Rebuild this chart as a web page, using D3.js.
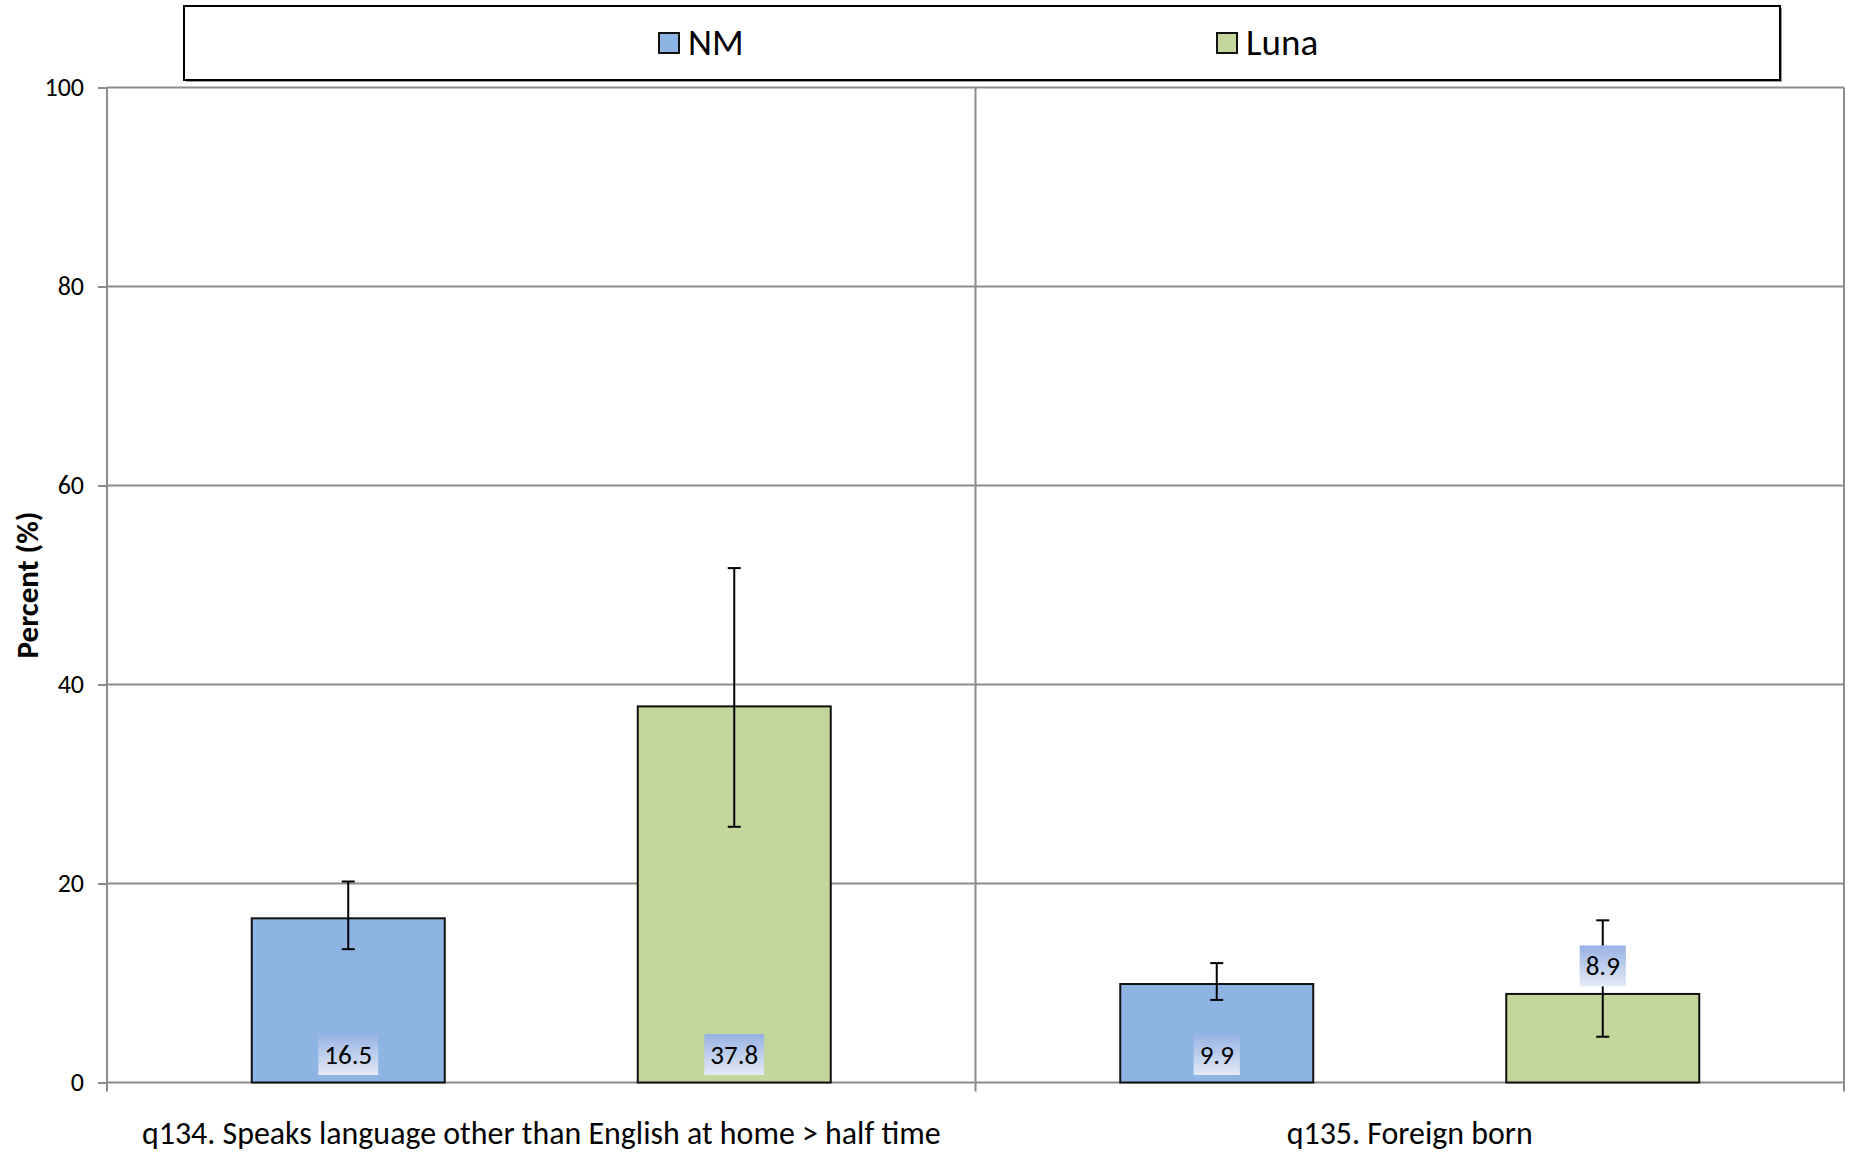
<!DOCTYPE html>
<html>
<head>
<meta charset="utf-8">
<script src="https://cdn.jsdelivr.net/npm/d3@7"></script>
<style>
  html, body { margin: 0; padding: 0; background: #fff; }
  svg { display: block; }
  text { font-family: Carlito, Calibri, Lato, "Open Sans", sans-serif; }
</style>
</head>
<body>
<svg id="chart" width="1851" height="1153"></svg>
<script>
// ---- data ----
const categories = ["q134. Speaks language other than English at home > half time", "q135. Foreign born"];
const seriesNames = ["NM", "Luna"];
const nmValues = [16.5, 9.9];
const lunaValues = [37.8, 8.9];
const nmLower = [13.4, 8.3];
const nmUpper = [20.2, 12.0];
const lunaLower = [25.7, 4.6];
const lunaUpper = [51.7, 16.3];
const yTicks = [0, 20, 40, 60, 80, 100];
const yTitle = "Percent (%)";

// ---- layout ----
const plot = { left: 107, right: 1844, top: 87.5, bottom: 1082.5 };
const colors = { NM: "#8eb4e3", Luna: "#c3d69b" };
const gridColor = "#8c8c8c";

const svg = d3.select("#chart");

const seriesData = {
  NM: { values: nmValues, lower: nmLower, upper: nmUpper },
  Luna: { values: lunaValues, lower: lunaLower, upper: lunaUpper }
};

const x0 = d3.scaleBand().domain(categories).range([plot.left, plot.right]).padding(0);
const x1 = d3.scaleBand().domain(seriesNames).range([0, x0.bandwidth()])
  .paddingInner(0.5).paddingOuter(0.375);
const y = d3.scaleLinear().domain([0, 100]).range([plot.bottom, plot.top]);

// defs: gradient for data labels
const defs = svg.append("defs");
const grad = defs.append("linearGradient").attr("id", "lblGrad")
  .attr("x1", 0).attr("y1", 0).attr("x2", 0).attr("y2", 1);
grad.append("stop").attr("offset", "0%").attr("stop-color", "#96b2e3");
grad.append("stop").attr("offset", "100%").attr("stop-color", "#e4eaf6");

// gridlines
svg.append("g").selectAll("line").data(yTicks.filter(t => t > 0)).join("line")
  .attr("x1", plot.left).attr("x2", plot.right)
  .attr("y1", d => y(d)).attr("y2", d => y(d))
  .attr("stroke", gridColor).attr("stroke-width", 2);

// vertical category boundary lines
const bounds = categories.map(c => x0(c)).concat([x0(categories[categories.length - 1]) + x0.bandwidth()]);
svg.append("g").selectAll("line").data(bounds.slice(1)).join("line")
  .attr("x1", d => d).attr("x2", d => d)
  .attr("y1", plot.top).attr("y2", plot.bottom + 9)
  .attr("stroke", gridColor).attr("stroke-width", 2);

// y axis
const yAxis = d3.axisLeft(y).tickValues(yTicks).tickSize(9).tickPadding(14).tickFormat(d3.format("d"));
const gy = svg.append("g").attr("transform", `translate(${plot.left},0)`).call(yAxis);
gy.select(".domain").attr("stroke", gridColor).attr("stroke-width", 2)
  .attr("d", `M0,${plot.top}V${plot.bottom + 9}`);
gy.selectAll(".tick line").attr("stroke", gridColor).attr("stroke-width", 2);
gy.selectAll(".tick text").attr("font-size", 26).attr("fill", "#000")
  .style("font-family", "Carlito, Calibri, Lato, sans-serif");

// x axis baseline
svg.append("line").attr("x1", plot.left).attr("x2", plot.right)
  .attr("y1", y(0)).attr("y2", y(0)).attr("stroke", gridColor).attr("stroke-width", 2);

// category labels
const catLabels = svg.append("g").selectAll("text").data(categories).join("text")
  .attr("x", d => x0(d) + x0.bandwidth() / 2)
  .attr("y", 1144)
  .attr("text-anchor", "middle")
  .attr("font-size", 26)
  .attr("fill", "#000")
  .text(d => d);
// fit first label to its reference width (~799px)
(function () {
  const node = catLabels.nodes()[0];
  const w = node.getComputedTextLength();
  const fs = 26 * 799 / w;
  catLabels.attr("font-size", fs);
})();

// y title
svg.append("text")
  .attr("transform", `translate(38,585) rotate(-90)`)
  .attr("text-anchor", "middle")
  .attr("font-size", 31).attr("font-weight", "bold")
  .attr("fill", "#000")
  .text(yTitle);

// bars
const barData = [];
seriesNames.forEach(s => {
  categories.forEach((c, i) => {
    barData.push({ series: s, cat: c, i, value: seriesData[s].values[i],
      lo: seriesData[s].lower[i], hi: seriesData[s].upper[i] });
  });
});

const gBars = svg.append("g");
gBars.selectAll("rect").data(barData).join("rect")
  .attr("x", d => x0(d.cat) + x1(d.series))
  .attr("y", d => y(d.value))
  .attr("width", x1.bandwidth())
  .attr("height", d => y(0) - y(d.value))
  .attr("fill", d => colors[d.series])
  .attr("stroke", "#111").attr("stroke-width", 2);

// error bars
const cap = 13;
const gErr = svg.append("g");
barData.forEach(d => {
  const cx = x0(d.cat) + x1(d.series) + x1.bandwidth() / 2;
  gErr.append("line").attr("x1", cx).attr("x2", cx)
    .attr("y1", y(d.hi)).attr("y2", y(d.lo)).attr("stroke", "#000").attr("stroke-width", 2);
  gErr.append("line").attr("x1", cx - cap / 2).attr("x2", cx + cap / 2)
    .attr("y1", y(d.hi)).attr("y2", y(d.hi)).attr("stroke", "#000").attr("stroke-width", 2);
  gErr.append("line").attr("x1", cx - cap / 2).attr("x2", cx + cap / 2)
    .attr("y1", y(d.lo)).attr("y2", y(d.lo)).attr("stroke", "#000").attr("stroke-width", 2);
});

// data labels (above error bars)
const labelH = 41, labelPad = 6, labelFs = 27;
const gLabels = svg.append("g");
barData.forEach(d => {
  const cx = x0(d.cat) + x1(d.series) + x1.bandwidth() / 2;
  // Luna / q135 label sits above its bar; the others sit at the bar base
  const outsideEnd = (d.series === "Luna" && d.i === 1);
  const bottom = outsideEnd ? y(d.value) - 7.5 : y(0) - 7.5;
  const txt = gLabels.append("text")
    .attr("x", cx).attr("y", bottom - labelH / 2 + 9.5)
    .attr("text-anchor", "middle").attr("font-size", labelFs).attr("fill", "#000")
    .text(d3.format(".1f")(d.value));
  const tw = txt.node().getComputedTextLength();
  const bw = tw + 2 * labelPad;
  gLabels.insert("rect", () => txt.node())
    .attr("x", cx - bw / 2).attr("y", bottom - labelH)
    .attr("width", bw).attr("height", labelH)
    .attr("fill", "url(#lblGrad)");
});

// legend
const lg = { x: 184, y: 6, w: 1596, h: 74 };
svg.append("rect").attr("x", lg.x + 2).attr("y", lg.y + 2).attr("width", lg.w).attr("height", lg.h)
  .attr("fill", "#9a9a9a");
svg.append("rect").attr("x", lg.x).attr("y", lg.y).attr("width", lg.w).attr("height", lg.h)
  .attr("fill", "#fff").attr("stroke", "#000").attr("stroke-width", 2);
const legendX = { NM: 659, Luna: 1217 };
const gLeg = svg.append("g");
seriesNames.forEach(s => {
  gLeg.append("rect").attr("x", legendX[s]).attr("y", 33).attr("width", 20).attr("height", 20)
    .attr("fill", colors[s]).attr("stroke", "#111").attr("stroke-width", 2);
  gLeg.append("text").attr("x", legendX[s] + 29).attr("y", 55)
    .attr("font-size", 37).attr("fill", "#000").text(s);
});
</script>
</body>
</html>
